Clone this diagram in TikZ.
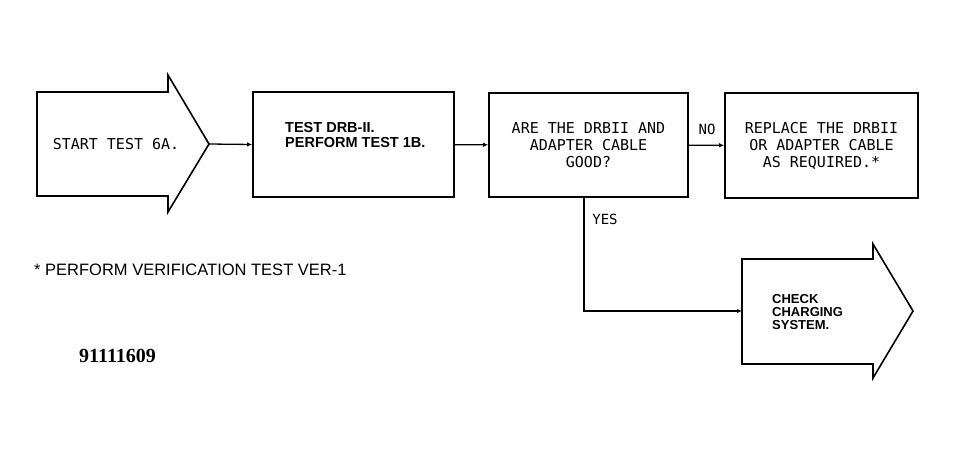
\documentclass[tikz,border=0pt]{standalone}
\usepackage{fontspec}
\setmainfont{Liberation Sans}
\newfontfamily\plotter{DejaVu Sans Mono}
\newfontfamily\serialfont{Liberation Serif}
\usetikzlibrary{arrows.meta,positioning}

\begin{document}
\begin{tikzpicture}[x=1pt, y=-1pt,
    box/.style={draw, line width=1.7pt, inner sep=0pt, align=center,
      font=\plotter\fontsize{15}{17}\selectfont},
    txt/.style={inner sep=0pt, align=left},
    link/.style={line width=1.3pt, -{Latex[length=5pt,width=4.5pt]}},
    outline/.style={line width=1.6pt, line join=miter}]
  %%%%% START %%%%%
  \useasboundingbox (0,0) rectangle (960,455);

  % start arrow
  \draw[outline] (37,92) -- (168,92) -- (168,75) -- (209,144) -- (168,212) -- (168,196) -- (37,196) -- cycle;
  \coordinate (starttip) at (209,144);
  \node[txt, font=\plotter\fontsize{15}{17}\selectfont] (starttxt) at (116,144) {START TEST 6A.};

  % boxes
  \node[box, minimum width=201, minimum height=105] (test) at (353.5,144.5) {};
  \node[txt, anchor=west, font=\bfseries\fontsize{14.5}{15}\selectfont] (testtxt) at (285,135) {TEST DRB-II.\\PERFORM TEST 1B.};

  \node[box, minimum width=199, minimum height=104] (good) at (588.5,145) {ARE THE DRBII AND\\ADAPTER CABLE\\GOOD?};
  \node[box, minimum width=193, minimum height=105] (replace) at (821.5,145.5) {REPLACE THE DRBII\\OR ADAPTER CABLE\\AS REQUIRED.*};

  % check arrow
  \draw[outline] (742,259) -- (873,259) -- (873,244) -- (913,311) -- (873,378) -- (873,364) -- (742,364) -- cycle;
  \coordinate (checkin) at (742,311);
  \node[txt, anchor=west, font=\bfseries\fontsize{13}{13}\selectfont] (check) at (772,312) {CHECK\\CHARGING\\SYSTEM.};

  % connectors
  \draw[link] (starttip) -- (test.west);
  \draw[link] (test) -- (good);
  \draw[link] (good) -- (replace);
  \draw[link] ([xshift=-4.5pt]good.south) |- (checkin);

  \node[txt, font=\plotter\fontsize{14}{16}\selectfont] (nolbl) at (707,129) {NO};
  \node[txt, font=\plotter\fontsize{14}{16}\selectfont] (yeslbl) at (605,219) {YES};

  % notes
  \node[txt, anchor=west, font=\fontsize{16.5}{18}\selectfont] (note) at (34,269.5) {* PERFORM VERIFICATION TEST VER-1};
  \node[txt, anchor=west, font=\serialfont\bfseries\fontsize{20}{22}\selectfont] (fignum) at (79,356) {91111609};
  %%%%% END %%%%%
\end{tikzpicture}
\end{document}
